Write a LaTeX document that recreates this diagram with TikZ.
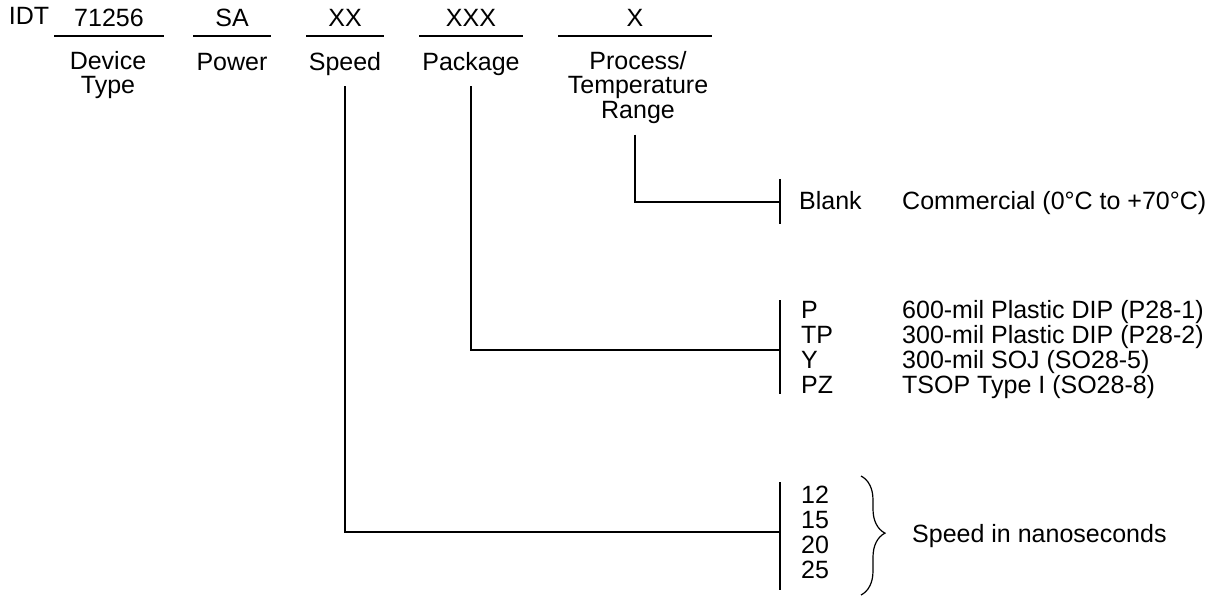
\documentclass[tikz,border=0pt]{standalone}
\usepackage{fontspec}
\setmainfont{Liberation Sans}
\usetikzlibrary{decorations.pathreplacing}

\tikzset{
  lbl/.style={font=\fontsize{25}{24.5}\selectfont, inner sep=0pt, anchor=base},
  field/.style={lbl, align=center, anchor=north},
  item/.style={lbl, anchor=base west},
  uline/.style={line width=2.6pt},
  conn/.style={line width=2.5pt},
  bar/.style={line width=2.8pt}
}

\begin{document}
\begin{tikzpicture}[x=1pt,y=-1pt]
            \useasboundingbox (0,0) rectangle (1212,596);
            \node[lbl] (idt) at (29,25) {IDT};
            \node[lbl] (dev) at (109,27) {71256};
            \node[lbl] (pwr) at (232,27) {SA};
            \node[lbl] (spdx) at (345,27) {XX};
            \node[lbl] (pkgx) at (471,27) {XXX};
            \node[lbl] (tmpx) at (635,27) {X};
            \draw[uline] (54,36) -- (164,36);
            \draw[uline] (193,36) -- (271,36);
            \draw[uline] (306,36) -- (384,36);
            \draw[uline] (419,36) -- (523,36);
            \draw[uline] (558,36) -- (712,36);
            \node[field] (devlbl) at (108,51) {Device\\Type};
            \node[lbl] (pwrlbl) at (232,71) {Power};
            \node[lbl] (spd) at (345,71) {Speed};
            \node[lbl] (pkg) at (471,71) {Package};
            \node[field] (proc) at (638,51) {Process/\\Temperature\\Range};
            \coordinate (tmpbar) at (780,202);
            \coordinate (pkgbar) at (780,350);
            \coordinate (spdbar) at (780,532);
            \draw[bar] (780,179) -- (780,224);
            \draw[bar] (780,300) -- (780,394);
            \draw[bar] (780,482) -- (780,590);
            \draw[conn] ([yshift=-11pt]proc.south -| 635,0) |- (tmpbar);
            \draw[conn] ([yshift=-10pt]pkg.south) |- (pkgbar);
            \draw[conn] ([yshift=-10pt]spd.south) |- (spdbar);
            \node[item] (blank) at (799,210) {Blank};
            \node[item] (com) at (902,210) {Commercial (0°C to +70°C)};
            \node[item] (p) at (801,318) {P};
            \node[item] (tp) at (801,343) {TP};
            \node[item] (y) at (801,368) {Y};
            \node[item] (pz) at (801,393) {PZ};
            \node[item] (pdesc) at (902,318) {600-mil Plastic DIP (P28-1)};
            \node[item] (tpdesc) at (902,343) {300-mil Plastic DIP (P28-2)};
            \node[item] (ydesc) at (902,368) {300-mil SOJ (SO28-5)};
            \node[item] (pzdesc) at (902,393) {TSOP Type I (SO28-8)};
            \node[item] (s12) at (801,503) {12};
            \node[item] (s15) at (801,528) {15};
            \node[item] (s20) at (801,553) {20};
            \node[item] (s25) at (801,578) {25};
            \draw[line width=1.2pt, decorate, decoration={brace, amplitude=24pt, aspect=0.48}] (861,476) -- (861,595);
            \node[item] (ns) at (912,542) {Speed in nanoseconds};
        \end{tikzpicture}
\end{document}
